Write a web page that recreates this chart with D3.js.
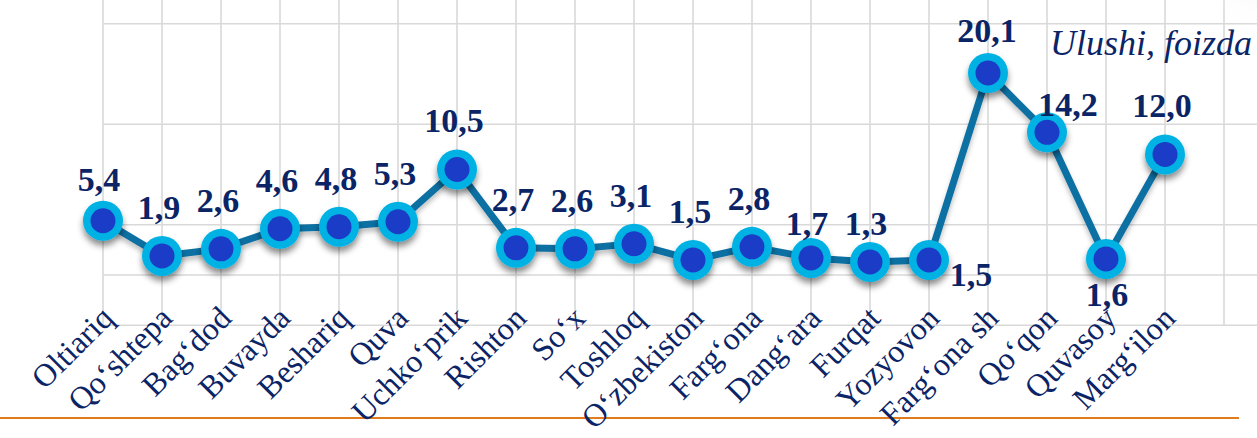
<!DOCTYPE html>
<html>
<head>
<meta charset="utf-8">
<script src="https://cdn.jsdelivr.net/npm/d3@7"></script>
<style>
  html, body { margin: 0; padding: 0; background: #ffffff; }
  svg { display: block; }
  text { font-family: "Liberation Serif", Tinos, "Times New Roman", Times, "DejaVu Serif", "Noto Serif", serif; }
</style>
</head>
<body>
<svg id="chart" width="1257" height="438"></svg>
<script>
// ---- data ----
const categories = ["Oltiariq", "Qo‘shtepa", "Bag‘dod", "Buvayda", "Beshariq", "Quva", "Uchko‘prik",
  "Rishton", "So‘x", "Toshloq", "O‘zbekiston", "Farg‘ona", "Dang‘ara", "Furqat", "Yozyovon",
  "Farg‘ona sh", "Qo‘qon", "Quvasoy", "Marg‘ilon"];
const values = [5.4, 1.9, 2.6, 4.6, 4.8, 5.3, 10.5, 2.7, 2.6, 3.1, 1.5, 2.8, 1.7, 1.3, 1.5, 20.1, 14.2, 1.6, 12.0];
const gridValues = [-5, 0, 5, 15, 25];
const unitLabel = "Ulushi, foizda";

// ---- layout (label placement relative to point) ----
const defaultLabelOffset = [-3, -37];
const labelOffsets = {
  "Oltiariq": [-4, -30],
  "Dang‘ara": [-4, -23],
  "Furqat": [-4, -27],
  "Yozyovon": [42, 26],
  "Farg‘ona sh": [-1, -31],
  "Qo‘qon": [21, -16],
  "Quvasoy": [1, 47]
};

const svg = d3.select("#chart");
const W = 1257, H = 438;
const navy = "#0a2466";

const x = d3.scalePoint().domain(categories).range([103, 1165]);
const y = d3.scaleLinear().domain([0, 25]).range([275, 23.75]);

const defs = svg.append("defs");
const sh = defs.append("filter").attr("id", "shadow").attr("x", "-50%").attr("y", "-50%").attr("width", "200%").attr("height", "200%");
sh.append("feDropShadow").attr("dx", 0).attr("dy", 5).attr("stdDeviation", 3)
  .attr("flood-color", "#000").attr("flood-opacity", 0.45);
const shl = defs.append("filter").attr("id", "lshadow").attr("x", "-10%").attr("y", "-10%").attr("width", "120%").attr("height", "130%");
shl.append("feDropShadow").attr("dx", 0).attr("dy", 4).attr("stdDeviation", 2.5)
  .attr("flood-color", "#000").attr("flood-opacity", 0.25);
const rg = defs.append("radialGradient").attr("id", "curl").attr("cx", "100%").attr("cy", "0%").attr("r", "100%");
rg.append("stop").attr("offset", "0%").attr("stop-color", "#c8c8c8").attr("stop-opacity", 0.9);
rg.append("stop").attr("offset", "100%").attr("stop-color", "#ffffff").attr("stop-opacity", 0);

// ---- grid ----
const step = x.step();
const x0 = x(categories[0]);
const xEnd = x(categories[categories.length - 1]) + step;
const gridXs = categories.map(c => x(c)).concat([xEnd]);
const grid = svg.append("g").attr("stroke", "#d9d9d9").attr("stroke-width", 1.6);
grid.selectAll("line.v").data(gridXs).join("line")
  .attr("x1", d => d).attr("x2", d => d).attr("y1", 0).attr("y2", y(-5));
grid.selectAll("line.h").data(gridValues).join("line")
  .attr("x1", x0).attr("x2", W).attr("y1", d => y(d)).attr("y2", d => y(d));

// page curl shading, top right
svg.append("ellipse").attr("cx", W).attr("cy", 0).attr("rx", 90).attr("ry", 45).attr("fill", "url(#curl)");

// ---- orange base line ----
svg.append("line").attr("x1", 0).attr("x2", 1239).attr("y1", 418).attr("y2", 418)
  .attr("stroke", "#e07c1c").attr("stroke-width", 2);

// ---- line ----
const line = d3.line().x((d, i) => x(categories[i])).y(d => y(d));
svg.append("path").datum(values).attr("d", line)
  .attr("fill", "none").attr("stroke", "#0c6fa3").attr("stroke-width", 7)
  .attr("stroke-linejoin", "round").attr("filter", "url(#lshadow)");

// ---- markers ----
const pts = svg.append("g").selectAll("g").data(values).join("g")
  .attr("transform", (d, i) => `translate(${x(categories[i])},${y(d)})`);
pts.append("circle").attr("r", 20).attr("fill", "#00b2e3").attr("filter", "url(#shadow)");
pts.append("circle").attr("r", 12.5).attr("fill", "#1b3cc6");

// ---- value labels ----
const fmt = v => d3.format(".1f")(v).replace(".", ",");
svg.append("g").selectAll("text").data(values).join("text")
  .attr("x", (d, i) => x(categories[i]) + (labelOffsets[categories[i]] || defaultLabelOffset)[0])
  .attr("y", (d, i) => y(d) + (labelOffsets[categories[i]] || defaultLabelOffset)[1])
  .attr("text-anchor", "middle")
  .attr("font-weight", "bold").attr("font-size", 34).attr("fill", navy)
  .text(d => fmt(d));

// ---- category labels ----
svg.append("g").selectAll("text").data(categories).join("text")
  .attr("transform", d => `translate(${x(d) + 12},${320}) rotate(-45)`)
  .attr("text-anchor", "end")
  .attr("font-size", 32).attr("fill", navy)
  .text(d => d);

// ---- unit label ----
svg.append("text").attr("x", 1252).attr("y", 55).attr("text-anchor", "end")
  .attr("font-style", "italic").attr("font-size", 36).attr("fill", navy)
  .text(unitLabel);
</script>
</body>
</html>
